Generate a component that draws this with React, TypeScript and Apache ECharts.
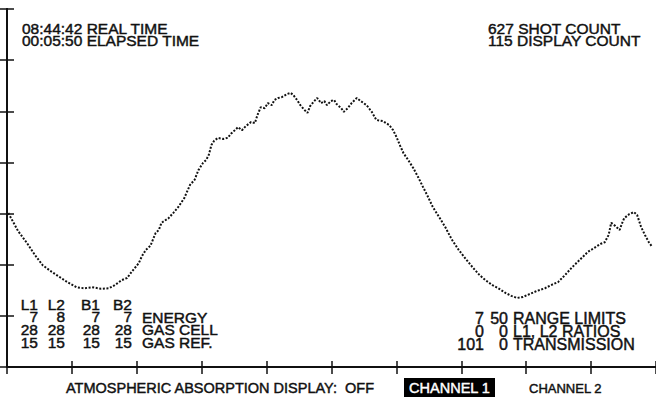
import React, { useEffect, useRef } from "react";
import * as echarts from "echarts";

// Trace: [x in tick units (0..10), y in tick units (0..7)]
const tracePoints: [number, number][] = [
  [0.02, 3.01], [0.08, 2.87], [0.17, 2.66], [0.31, 2.42], [0.43, 2.19], [0.55, 1.99], [0.69, 1.86], [0.81, 1.76],
  [0.93, 1.66], [1.07, 1.56], [1.19, 1.54], [1.31, 1.56], [1.45, 1.53], [1.57, 1.54], [1.66, 1.6], [1.77, 1.7],
  [1.85, 1.74], [1.92, 1.86], [2.03, 2.03], [2.08, 2.17], [2.14, 2.29], [2.21, 2.37], [2.29, 2.62], [2.34, 2.68],
  [2.38, 2.82], [2.49, 2.91], [2.56, 3.01], [2.64, 3.13], [2.73, 3.3], [2.82, 3.56], [2.89, 3.66], [2.95, 3.85],
  [3.02, 3.99], [3.07, 4.05], [3.11, 4.15], [3.15, 4.34], [3.19, 4.42], [3.25, 4.48], [3.33, 4.46], [3.4, 4.48],
  [3.45, 4.56], [3.51, 4.63], [3.56, 4.69], [3.62, 4.63], [3.68, 4.71], [3.76, 4.79], [3.82, 4.77], [3.86, 4.93],
  [3.91, 5.08], [3.97, 5.06], [4.02, 5.16], [4.08, 5.12], [4.12, 5.22], [4.18, 5.26], [4.24, 5.28], [4.32, 5.34],
  [4.37, 5.36], [4.41, 5.32], [4.47, 5.22], [4.52, 5.12], [4.58, 5.03], [4.63, 4.97], [4.67, 5.1], [4.72, 5.18],
  [4.78, 5.26], [4.84, 5.16], [4.89, 5.2], [4.93, 5.12], [4.99, 5.2], [5.04, 5.22], [5.08, 5.14], [5.15, 5.06],
  [5.19, 4.99], [5.25, 5.06], [5.31, 5.16], [5.39, 5.26], [5.45, 5.2], [5.54, 5.12], [5.62, 4.99], [5.69, 4.83],
  [5.79, 4.81], [5.89, 4.73], [5.95, 4.63], [6.0, 4.5], [6.06, 4.32], [6.11, 4.18], [6.18, 4.05], [6.26, 3.89],
  [6.34, 3.7], [6.41, 3.52], [6.49, 3.32], [6.56, 3.13], [6.66, 2.93], [6.76, 2.72], [6.85, 2.5], [6.96, 2.29],
  [7.07, 2.11], [7.18, 1.94], [7.28, 1.8], [7.37, 1.7], [7.48, 1.6], [7.57, 1.54], [7.68, 1.45], [7.77, 1.39],
  [7.86, 1.35], [7.95, 1.37], [8.06, 1.43], [8.17, 1.49], [8.29, 1.54], [8.38, 1.6], [8.49, 1.66], [8.6, 1.8],
  [8.7, 1.94], [8.82, 2.09], [8.95, 2.25], [9.05, 2.33], [9.15, 2.41], [9.21, 2.44], [9.27, 2.58], [9.31, 2.82],
  [9.37, 2.76], [9.44, 2.68], [9.48, 2.82], [9.51, 2.91], [9.59, 2.99], [9.66, 3.03], [9.71, 2.97], [9.77, 2.74],
  [9.83, 2.58], [9.89, 2.44], [9.94, 2.35],
];

const realTime = "08:44:42";
const elapsedTime = "00:05:50";
const shotCount = 627;
const displayCount = 115;

const laserHeaders = ["L1", "L2", "B1", "B2"];
const energyRow = [7, 8, 7, 7];
const gasCellRow = [28, 28, 28, 28];
const gasRefRow = [15, 15, 15, 15];
const laserRowLabels = ["ENERGY", "GAS CELL", "GAS REF."];

const rangeLimits = [7, 50];
const ratiosRow = [0, 0];
const transmissionRow = [101, 0];
const ratioRowLabels = ["RANGE LIMITS", "L1, L2 RATIOS", "TRANSMISSION"];

const absorptionState = "OFF";
const channels = ["CHANNEL 1", "CHANNEL 2"];

const FONT = '"Liberation Sans", Arial, sans-serif';
const INK = "#111";

export default function App() {
  const ref = useRef<HTMLDivElement>(null);

  useEffect(() => {
    if (!ref.current) return;
    const chart = echarts.init(ref.current, undefined, { renderer: "svg" });

    // multi-line text block, vertically centred on y
    const txt = (
      lines: string[],
      x: number,
      y: number,
      align: string = "left",
      size = 15.5,
      lh = 12.7,
      fill = INK
    ) => ({
      type: "text",
      x,
      y,
      silent: true,
      z: 10,
      style: {
        text: lines.join("\n"),
        font: `${size}px ${FONT}`,
        lineHeight: lh,
        fill,
        stroke: fill,
        lineWidth: 0.45,
        textAlign: align,
        textVerticalAlign: "middle",
        align,
        verticalAlign: "middle",
      },
    });

    const leftCols = [38, 65, 100, 132];
    const leftLabelX = 142;
    const rightCols = [484, 508];
    const rightLabelX = 513;
    const graphics: any[] = [];

    graphics.push(txt([`${realTime} REAL TIME`, `${elapsedTime} ELAPSED TIME`], 22, 34, "left", 15.5, 12));
    graphics.push(txt([`${shotCount} SHOT COUNT`, `${displayCount} DISPLAY COUNT`], 488, 34, "left", 15.5, 12));

    // laser columns: header + three rows
    laserHeaders.forEach((h, i) => {
      graphics.push(
        txt([h, String(energyRow[i]), String(gasCellRow[i]), String(gasRefRow[i])], leftCols[i], 323.3, "right", 15.5, 12.7)
      );
    });
    graphics.push(txt(laserRowLabels, leftLabelX, 329.7, "left", 15.5, 12.7));

    // ratio columns
    rightCols.forEach((cx, i) => {
      graphics.push(
        txt([String(rangeLimits[i]), String(ratiosRow[i]), String(transmissionRow[i])], cx, 331, "right", 16, 13)
      );
    });
    graphics.push(txt(ratioRowLabels, rightLabelX, 331, "left", 16, 13));

    graphics.push(txt([`ATMOSPHERIC ABSORPTION DISPLAY:  ${absorptionState}`], 66, 388, "left", 14.5, 15));
    graphics.push({
      type: "rect",
      shape: { x: 404, y: 378, width: 91, height: 19 },
      style: { fill: "#000" },
      z: 9,
    });
    graphics.push(txt([channels[0]], 449.5, 388, "center", 14.5, 15, "#fff"));
    graphics.push(txt([channels[1]], 529, 388, "left", 13, 15));

    const axisCommon = {
      type: "value" as const,
      axisLabel: { show: false },
      splitLine: { show: false },
    };

    chart.setOption({
      animation: false,
      backgroundColor: "#fff",
      grid: { left: 7, top: 9, right: -6, bottom: 35, containLabel: false },
      xAxis: [
        {
          ...axisCommon,
          min: 0,
          max: 10,
          interval: 1,
          position: "bottom",
          axisLine: { show: true, lineStyle: { color: INK, width: 2 } },
          axisTick: { show: true, inside: true, length: 6, lineStyle: { color: INK, width: 1.5 } },
        },
        {
          ...axisCommon,
          min: 0,
          max: 10,
          interval: 1,
          position: "top",
          axisLine: { show: true, lineStyle: { color: INK, width: 1.5 } },
          axisTick: { show: true, inside: true, length: 7, lineStyle: { color: INK, width: 1.5 } },
        },
      ],
      yAxis: [
        {
          ...axisCommon,
          min: 0,
          max: 7,
          interval: 1,
          position: "left",
          axisLine: { show: true, lineStyle: { color: INK, width: 2 } },
          axisTick: { show: true, inside: true, length: 7, lineStyle: { color: INK, width: 1.5 } },
        },
        {
          ...axisCommon,
          min: 0,
          max: 7,
          interval: 1,
          position: "right",
          axisLine: { show: true, lineStyle: { color: INK, width: 2 } },
          axisTick: { show: true, inside: true, length: 12, lineStyle: { color: INK, width: 1.5 } },
        },
      ],
      series: [
        {
          type: "line",
          data: tracePoints,
          showSymbol: false,
          symbol: "none",
          smooth: false,
          lineStyle: { color: INK, width: 2, type: [2, 1.6] },
          silent: true,
        },
      ],
      graphic: graphics,
    });

    return () => chart.dispose();
  }, []);

  return (
    <div
      ref={ref}
      style={{ position: "absolute", left: 0, top: 0, width: 656, height: 402, background: "#fff" }}
    />
  );
}
